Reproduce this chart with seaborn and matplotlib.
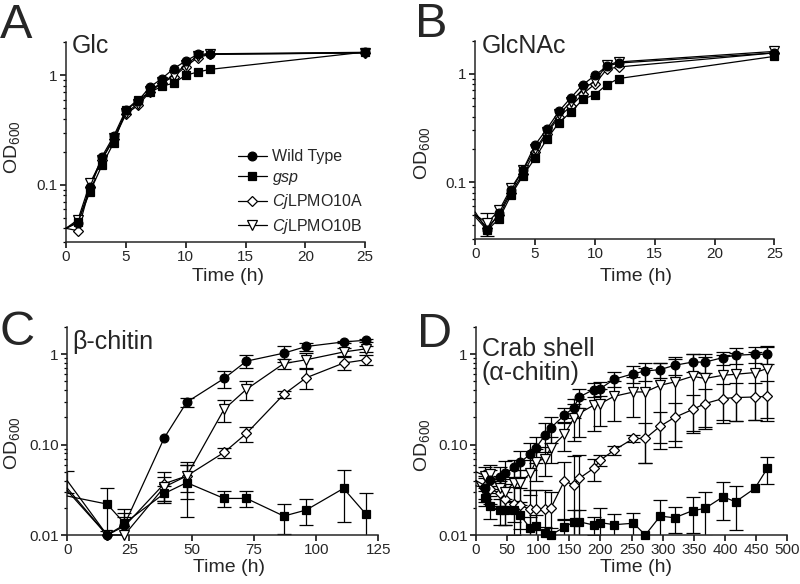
import numpy as np
import pandas as pd
import matplotlib
matplotlib.use("Agg")
import matplotlib.pyplot as plt
import seaborn as sns
from matplotlib.lines import Line2D
from matplotlib.ticker import LogLocator, FixedLocator, FixedFormatter, NullFormatter

sns.set_style("ticks")
plt.rcParams["font.family"] = ["Liberation Sans", "DejaVu Sans"]
plt.rcParams["mathtext.fontset"] = "custom"
plt.rcParams["mathtext.rm"] = "Liberation Sans"
plt.rcParams["mathtext.it"] = "Liberation Sans:italic"

# ---------------- data ----------------
legend_labels = ["Wild Type", r"$\it{gsp}$", r"$\it{Cj}$LPMO10A", r"$\it{Cj}$LPMO10B"]

# Panel A: Glc
glc_time = [0, 1, 2, 3, 4, 5, 6, 7, 8, 9, 10, 11, 12, 25]
glc_wt = [0.040, 0.045, 0.095, 0.18, 0.28, 0.48, 0.58, 0.78, 0.93, 1.15, 1.35, 1.55, 1.57, 1.62]
glc_gsp = [0.040, 0.046, 0.086, 0.150, 0.243, 0.48, 0.60, 0.70, 0.79, 0.85, 1.00, 1.07, 1.13, 1.63]
glc_a = [0.040, 0.038, 0.095, 0.17, 0.26, 0.44, 0.53, 0.70, 0.85, 0.97, 1.20, 1.45, 1.55, 1.60]
glc_b = [0.040, 0.048, 0.103, 0.17, 0.27, 0.45, 0.55, 0.72, 0.86, 1.00, 1.25, 1.50, 1.56, 1.60]

# Panel B: GlcNAc
nac_time = [0, 1, 2, 3, 4, 5, 6, 7, 8, 9, 10, 11, 12, 25]
nac_wt = [0.053, 0.036, 0.052, 0.084, 0.13, 0.22, 0.31, 0.45, 0.60, 0.79, 0.96, 1.17, 1.25, 1.55]
nac_gsp = [0.048, 0.036, 0.046, 0.076, 0.115, 0.166, 0.25, 0.354, 0.44, 0.58, 0.64, 0.79, 0.90, 1.44]
nac_a = [0.050, 0.038, 0.050, 0.080, 0.12, 0.19, 0.28, 0.40, 0.50, 0.65, 0.80, 1.10, 1.15, 1.55]
nac_b = [0.050, 0.042, 0.055, 0.088, 0.13, 0.20, 0.29, 0.42, 0.55, 0.72, 0.85, 1.20, 1.28, 1.60]
nac_b_sd = [0, 0.010, 0, 0, 0, 0, 0, 0, 0, 0, 0, 0, 0, 0]

# Panel C: beta-chitin
bc_time = [0, 16, 23, 39, 48, 63, 72, 87, 96, 111, 120]
bc_wt = [0.040, 0.010, 0.013, 0.119, 0.295, 0.54, 0.84, 1.03, 1.22, 1.37, 1.43]
bc_gsp = [0.027, 0.022, 0.0135, 0.0288, 0.038, 0.0254, 0.0254, 0.0162, 0.0189, 0.0328, 0.017]
bc_a = [0.031, 0.010, 0.0125, 0.037, 0.045, 0.082, 0.133, 0.36, 0.55, 0.80, 0.87]
bc_b = [0.033, 0.010, 0.010, 0.034, 0.045, 0.246, 0.41, 0.79, 0.87, 1.06, 1.15]
bc_wt_sd = [0.011, 0, 0, 0, 0.035, 0.115, 0.14, 0.20, 0.13, 0.05, 0.05]
bc_gsp_sd = [0, 0.011, 0.006, 0.006, 0.022, 0.005, 0.005, 0.006, 0.006, 0.019, 0.012]
bc_a_sd = [0, 0, 0.005, 0.013, 0.020, 0.010, 0.025, 0.030, 0.14, 0.13, 0.10]
bc_b_sd = [0, 0, 0.006, 0.010, 0.015, 0.070, 0.10, 0.10, 0.17, 0.10, 0.08]

# Panel D: crab shell (alpha-chitin)
cs_time = [0, 15, 22, 38, 47, 61, 71, 87, 96, 111, 120, 142, 157, 166, 189, 200, 222,
           253, 272, 296, 319, 348, 368, 397, 417, 448, 468]
cs_wt = [0.035, 0.033, 0.041, 0.044, 0.048, 0.056, 0.064, 0.078, 0.092, 0.127, 0.153, 0.212,
         0.257, 0.337, 0.407, 0.418, 0.53, 0.61, 0.654, 0.677, 0.756, 0.82, 0.82, 0.92,
         0.975, 1.0, 1.0]
cs_gsp = [0.040, 0.026, 0.021, 0.0189, 0.0189, 0.0189, 0.0166, 0.0119, 0.0126, 0.0104, 0.010,
          0.0122, 0.014, 0.014, 0.0129, 0.0137, 0.013, 0.0135, 0.010, 0.0162, 0.0155, 0.0186,
          0.0197, 0.0265, 0.0233, 0.0328, 0.0546]
cs_a = [0.040, 0.035, 0.032, 0.0293, 0.025, 0.022, 0.0214, 0.0192, 0.0192, 0.0192, 0.0197,
        0.0398, 0.0356, 0.0424, 0.0546, 0.0675, 0.087, 0.117, 0.117, 0.16, 0.20, 0.245,
        0.285, 0.324, 0.332, 0.337, 0.342]
cs_b = [0.050, 0.045, 0.047, 0.033, 0.030, 0.038, 0.038, 0.048, 0.065, 0.070, 0.092, 0.13,
        0.195, 0.222, 0.273, 0.285, 0.343, 0.383, 0.383, 0.454, 0.494, 0.571, 0.54, 0.586,
        0.601, 0.628, 0.695]
cs_wt_sd = [0, 0.010, 0.012, 0.012, 0.018, 0.012, 0.020, 0.025, 0.030, 0.045, 0.050, 0.040,
            0.060, 0.080, 0.070, 0.070, 0.10, 0.13, 0.15, 0.13, 0.17, 0.18, 0.20, 0.15, 0.20,
            0.20, 0.22]
cs_gsp_sd = [0, 0.005, 0.006, 0.006, 0.006, 0.005, 0.005, 0.004, 0.004, 0.002, 0.002, 0.003,
             0.005, 0.005, 0.003, 0.006, 0.004, 0.004, 0, 0.008, 0.005, 0.008, 0.010, 0.012,
             0.012, 0, 0.018]
cs_a_sd = [0, 0.010, 0.010, 0.010, 0.012, 0.012, 0.012, 0.012, 0.012, 0.012, 0.010, 0.025,
           0.040, 0.035, 0.015, 0.010, 0.010, 0.010, 0.055, 0.070, 0.090, 0.11, 0.13, 0.15,
           0.15, 0.15, 0.16]
cs_b_sd = [0, 0.012, 0.012, 0.012, 0.012, 0.015, 0.015, 0.020, 0.025, 0.025, 0.030, 0.046,
           0.086, 0.10, 0.13, 0.126, 0.16, 0.18, 0.32, 0.35, 0.40, 0.43, 0.39, 0.40, 0.42,
           0.44, 0.50]

# ---------------- styling ----------------
STYLE = {
    "wt": dict(marker="o", markersize=6.3, markerfacecolor="black"),
    "gsp": dict(marker="s", markersize=6.2, markerfacecolor="black"),
    "a": dict(marker="D", markersize=5, markerfacecolor="white"),
    "b": dict(marker="v", markersize=7.5, markerfacecolor="white"),
}
ORDER = ["a", "b", "wt", "gsp"]

fig = plt.figure(figsize=(8, 5.84), dpi=100)
axA = fig.add_axes([0.0825, 0.5856, 0.374, 0.342])
axB = fig.add_axes([0.594, 0.591, 0.374, 0.339])
axC = fig.add_axes([0.084, 0.0839, 0.389, 0.356])
axD = fig.add_axes([0.595, 0.0839, 0.389, 0.356])


def draw(ax, t, series, sds):
    for key in ORDER:
        v = np.asarray(series[key], float)
        tt = np.asarray(t, float)
        if key in sds:
            sd = np.asarray(sds[key], float)
            m = sd > 0
            if m.any():
                ax.errorbar(tt[m], v[m], yerr=sd[m], fmt="none", ecolor="black",
                            elinewidth=0.9, capsize=5, capthick=0.9, zorder=2)
        df = pd.DataFrame({"t": tt, "v": v})
        sns.lineplot(data=df, x="t", y="v", ax=ax, color="black", lw=0.9,
                     errorbar=None, legend=False, sort=False,
                     markeredgecolor="black", markeredgewidth=0.9,
                     markevery=list(range(1, len(tt))), zorder=3, clip_on=False,
                     **STYLE[key])


draw(axA, glc_time, dict(wt=glc_wt, gsp=glc_gsp, a=glc_a, b=glc_b), {})
draw(axB, nac_time, dict(wt=nac_wt, gsp=nac_gsp, a=nac_a, b=nac_b), dict(b=nac_b_sd))
draw(axC, bc_time, dict(wt=bc_wt, gsp=bc_gsp, a=bc_a, b=bc_b),
     dict(wt=bc_wt_sd, gsp=bc_gsp_sd, a=bc_a_sd, b=bc_b_sd))
draw(axD, cs_time, dict(wt=cs_wt, gsp=cs_gsp, a=cs_a, b=cs_b),
     dict(wt=cs_wt_sd, gsp=cs_gsp_sd, a=cs_a_sd, b=cs_b_sd))

tick_fs = 11
for ax in (axA, axB, axC, axD):
    ax.set_yscale("log")
    for s in ("top", "right"):
        ax.spines[s].set_visible(False)
    for s in ("left", "bottom"):
        ax.spines[s].set_linewidth(1.1)
    ax.yaxis.set_minor_locator(LogLocator(base=10, subs=np.arange(2, 10)))
    ax.yaxis.set_minor_formatter(NullFormatter())
    ax.tick_params(which="major", length=4, width=1.1, labelsize=tick_fs, pad=2, color="black")
    ax.tick_params(which="minor", length=2.5, width=0.9, color="black")
    ax.set_xlabel("Time (h)", fontsize=14)
    ax.set_ylabel(r"OD$_{\mathregular{600}}$", fontsize=14)

for ax in (axA, axB):
    ax.set_xlim(0, 25)
    ax.set_ylim(0.03, 2)
    ax.set_xticks([0, 5, 10, 15, 20, 25])
    ax.yaxis.set_major_locator(FixedLocator([0.1, 1]))
    ax.yaxis.set_major_formatter(FixedFormatter(["0.1", "1"]))

axC.set_xlim(0, 125)
axC.set_xticks([0, 25, 50, 75, 100, 125])
axD.set_xlim(0, 500)
axD.set_xticks(list(range(0, 501, 50)))
for ax in (axC, axD):
    ax.set_ylim(0.01, 2)
    ax.yaxis.set_major_locator(FixedLocator([0.01, 0.1, 1]))
    ax.yaxis.set_major_formatter(FixedFormatter(["0.01", "0.10", "1"]))

axA.yaxis.set_label_coords(-0.147, 0.475)
axB.yaxis.set_label_coords(-0.144, 0.434)
axC.yaxis.set_label_coords(-0.145, 0.44)
axD.yaxis.set_label_coords(-0.141, 0.43)
axA.xaxis.set_label_coords(0.543, -0.13)
axB.xaxis.set_label_coords(0.538, -0.145)
axC.xaxis.set_label_coords(0.52, -0.115)
axD.xaxis.set_label_coords(0.513, -0.115)

title_fs = 18
axA.text(0.019, 0.946, "Glc", transform=axA.transAxes, fontsize=title_fs, va="baseline")
axB.text(0.022, 0.941, "GlcNAc", transform=axB.transAxes, fontsize=title_fs, va="baseline")
axC.text(0.015, 0.893, "β-chitin", transform=axC.transAxes, fontsize=title_fs, va="baseline")
axD.text(0.018, 0.861, "Crab shell", transform=axD.transAxes, fontsize=title_fs, va="baseline")
axD.text(0.018, 0.745, "(α-chitin)", transform=axD.transAxes, fontsize=title_fs, va="baseline")

letter_fs = 35
fig.text(0.0, 0.935, "A", fontsize=letter_fs, va="baseline", ha="left")
fig.text(0.519, 0.937, "B", fontsize=letter_fs, va="baseline", ha="left")
fig.text(0.0, 0.409, "C", fontsize=letter_fs, va="baseline", ha="left")
fig.text(0.521, 0.406, "D", fontsize=letter_fs, va="baseline", ha="left")

handles = []
for key in ["wt", "gsp", "a", "b"]:
    handles.append(Line2D([0], [0], color="black", lw=0.9, markeredgecolor="black",
                          markeredgewidth=0.9, **STYLE[key]))
axA.legend(handles, legend_labels, loc="upper left", bbox_to_anchor=(0.575, 0.465),
           frameon=False, fontsize=11.5, handlelength=1.8, handletextpad=0.3,
           labelspacing=0.35, borderpad=0, borderaxespad=0)

fig.savefig("out.png", dpi=100, facecolor="white")
